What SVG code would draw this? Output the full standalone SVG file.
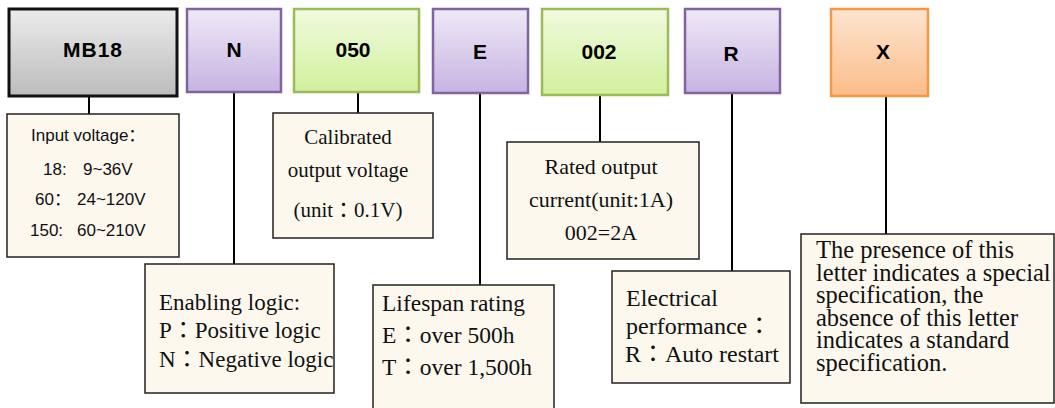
<svg xmlns="http://www.w3.org/2000/svg" width="1055" height="408" viewBox="0 0 1055 408">
<defs>
<linearGradient id="gGray" x1="0" y1="0" x2="0" y2="1"><stop offset="0" stop-color="#ebebeb"/><stop offset="1" stop-color="#bcbcbc"/></linearGradient>
<linearGradient id="gPurple" x1="0" y1="0" x2="0" y2="1"><stop offset="0" stop-color="#eee9f6"/><stop offset="1" stop-color="#c7b3e2"/></linearGradient>
<linearGradient id="gGreen" x1="0" y1="0" x2="0" y2="1"><stop offset="0" stop-color="#f0fadf"/><stop offset="1" stop-color="#d2f09c"/></linearGradient>
<linearGradient id="gOrange" x1="0" y1="0" x2="0" y2="1"><stop offset="0" stop-color="#fde4cf"/><stop offset="1" stop-color="#fbbd8a"/></linearGradient>
</defs>
<style>
.code{font-family:"Liberation Sans",Arial,sans-serif;font-weight:bold;font-size:21px;fill:#000;text-anchor:middle}
.gray{fill:url(#gGray);stroke:#111;stroke-width:3}
.purple{fill:url(#gPurple);stroke:#8064a2;stroke-width:2.5}
.green{fill:url(#gGreen);stroke:#9bbb59;stroke-width:2.5}
.orange{fill:url(#gOrange);stroke:#f79646;stroke-width:2.5}
.note{fill:#fcf8ee;stroke:#222;stroke-width:1.5}
.sans{font-family:"Liberation Sans",Arial,"Noto Sans CJK SC",sans-serif;font-size:17px;fill:#111}
.serif{font-family:"Liberation Serif","Times New Roman","Noto Sans CJK JP",serif;fill:#111}
.conn line{stroke:#000;stroke-width:2}
</style>
<g id="connectors" class="conn">
<line x1="89" y1="96" x2="89" y2="115"/>
<line x1="234" y1="92" x2="234" y2="264"/>
<line x1="358" y1="92" x2="358" y2="113"/>
<line x1="480" y1="93" x2="480" y2="285"/>
<line x1="600" y1="95" x2="600" y2="142"/>
<line x1="732" y1="93" x2="732" y2="271"/>
<line x1="886" y1="96" x2="886" y2="234"/>
</g>
<g id="node-mb18"><rect class="gray" x="9" y="9" width="168" height="87"/><text class="code" x="93" y="57" letter-spacing="1">MB18</text></g>
<g id="node-n"><rect class="purple" x="187" y="9" width="94" height="83"/><text class="code" x="234" y="57">N</text></g>
<g id="node-050"><rect class="green" x="294" y="9" width="125" height="83"/><text class="code" x="353" y="57">050</text></g>
<g id="node-e"><rect class="purple" x="433" y="9" width="95" height="84"/><text class="code" x="480" y="59">E</text></g>
<g id="node-002"><rect class="green" x="542" y="9" width="126" height="86"/><text class="code" x="599" y="59">002</text></g>
<g id="node-r"><rect class="purple" x="685" y="9" width="95" height="84"/><text class="code" x="731" y="61">R</text></g>
<g id="node-x"><rect class="orange" x="831" y="9" width="97" height="87"/><text class="code" x="883" y="59">X</text></g>

<g id="note-input">
<rect class="note" x="7" y="114" width="172" height="143"/>
<text class="sans" x="31" y="141">Input voltage：</text>
<text class="sans" x="43" y="175">18:</text><text class="sans" x="83" y="175">9~36V</text>
<text class="sans" x="35" y="205">60：</text><text class="sans" x="77" y="205">24~120V</text>
<text class="sans" x="30" y="236">150:</text><text class="sans" x="77" y="236">60~210V</text>
</g>
<g id="note-calibrated">
<rect class="note" x="273" y="113" width="160" height="125"/>
<text class="serif" font-size="21" text-anchor="middle" x="348" y="144">Calibrated</text>
<text class="serif" font-size="21" text-anchor="middle" x="348" y="177">output voltage</text>
<text class="serif" font-size="21" text-anchor="middle" x="348" y="217">(unit：0.1V)</text>
</g>
<g id="note-enabling">
<rect class="note" x="145" y="264" width="189" height="129"/>
<text class="serif" font-size="23" x="159" y="310">Enabling logic:</text>
<text class="serif" font-size="23" x="159" y="338">P：Positive logic</text>
<text class="serif" font-size="23" x="159" y="367">N：Negative logic</text>
</g>
<g id="note-lifespan">
<rect class="note" x="373" y="285" width="181" height="130"/>
<text class="serif" font-size="23.5" x="382" y="311">Lifespan rating</text>
<text class="serif" font-size="23.5" x="382" y="343">E：over 500h</text>
<text class="serif" font-size="23.5" x="382" y="375">T：over 1,500h</text>
</g>
<g id="note-rated">
<rect class="note" x="507" y="142" width="192" height="117"/>
<text class="serif" font-size="22" text-anchor="middle" x="601" y="174">Rated output</text>
<text class="serif" font-size="22" text-anchor="middle" x="601" y="207">current(unit:1A)</text>
<text class="serif" font-size="22" text-anchor="middle" x="601" y="240">002=2A</text>
</g>
<g id="note-electrical">
<rect class="note" x="612" y="271" width="178" height="112"/>
<text class="serif" font-size="24" x="626" y="306">Electrical</text>
<text class="serif" font-size="24" x="626" y="334">performance：</text>
<text class="serif" font-size="24" x="625" y="362">R：Auto restart</text>
</g>
<g id="note-x">
<rect class="note" x="801" y="234" width="253" height="169"/>
<text class="serif" font-size="24.5" x="816" y="258">The presence of this</text>
<text class="serif" font-size="24.5" x="816" y="281">letter indicates a special</text>
<text class="serif" font-size="24.5" x="816" y="303">specification, the</text>
<text class="serif" font-size="24.5" x="816" y="326">absence of this letter</text>
<text class="serif" font-size="24.5" x="816" y="348">indicates a standard</text>
<text class="serif" font-size="24.5" x="816" y="371">specification.</text>
</g>
</svg>
